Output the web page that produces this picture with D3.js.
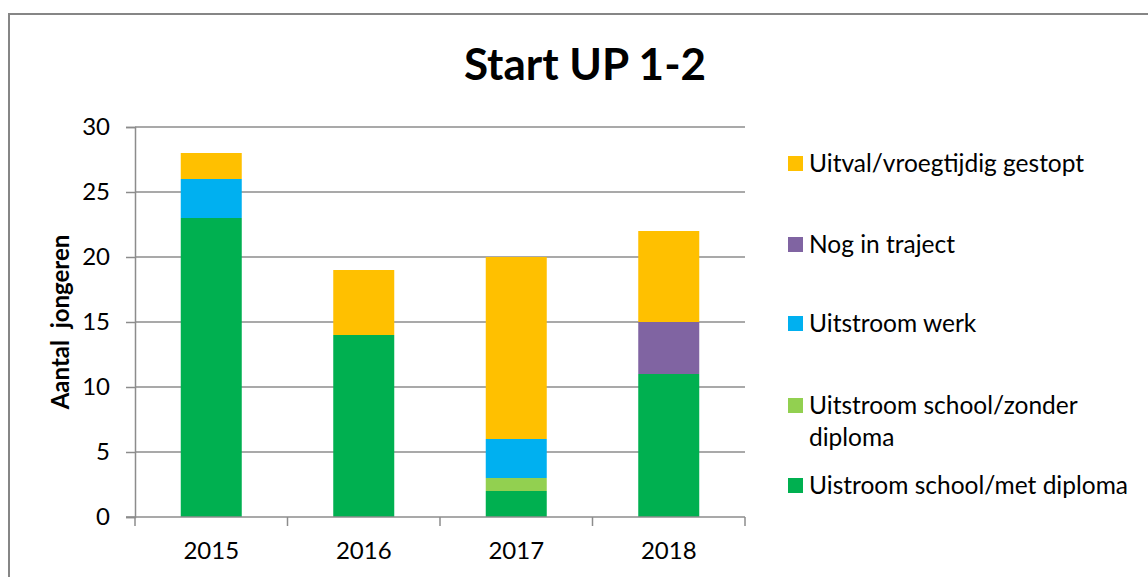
<!DOCTYPE html>
<html>
<head>
<meta charset="utf-8">
<script src="https://cdn.jsdelivr.net/npm/d3@7"></script>
<style>
  body { margin: 0; background: #fff; }
  text { font-family: Lato, "Open Sans", sans-serif; fill: #000; }
</style>
</head>
<body>
<script>
// data
var years = ["2015", "2016", "2017", "2018"];
var seriesNames = ["Uistroom school/met diploma", "Uitstroom school/zonder diploma", "Uitstroom werk", "Nog in traject", "Uitval/vroegtijdig gestopt"];
var metDiploma = [23, 14, 2, 11];
var zonderDiploma = [0, 0, 1, 0];
var werk = [3, 0, 3, 0];
var traject = [0, 0, 0, 4];
var uitval = [2, 5, 14, 7];
var colors = ["#00B050", "#92D050", "#00B0F0", "#8064A2", "#FFC000"];
var yTicks = [0, 5, 10, 15, 20, 25, 30];

var width = 1148, height = 577;
var svg = d3.select("body").append("svg")
    .attr("width", width)
    .attr("height", height);

// chart border (runs off the right / bottom of the picture)
svg.append("rect")
    .attr("x", 9).attr("y", 14)
    .attr("width", 1300).attr("height", 700)
    .attr("fill", "none")
    .attr("stroke", "#868686")
    .attr("stroke-width", 2);

var plotLeft = 135, plotRight = 745, plotTop = 127, plotBottom = 517;

var x = d3.scaleBand().domain(years).range([plotLeft, plotRight])
    .paddingInner(0.6).paddingOuter(0.3);
var y = d3.scaleLinear().domain([0, 30]).range([plotBottom, plotTop]);

var table = years.map(function (yr, i) {
  return {year: yr, s0: metDiploma[i], s1: zonderDiploma[i], s2: werk[i], s3: traject[i], s4: uitval[i]};
});
var keys = ["s0", "s1", "s2", "s3", "s4"];
var stacked = d3.stack().keys(keys)(table);

// gridlines
svg.append("g")
    .selectAll("line")
    .data(yTicks.filter(function (d) { return d > 0; }))
    .enter().append("line")
    .attr("x1", plotLeft).attr("x2", plotRight)
    .attr("y1", function (d) { return y(d); })
    .attr("y2", function (d) { return y(d); })
    .attr("stroke", "#8c8c8c")
    .attr("stroke-width", 1.5);

// bars
svg.append("g")
    .selectAll("g")
    .data(stacked)
    .enter().append("g")
    .attr("fill", function (d, i) { return colors[i]; })
    .selectAll("rect")
    .data(function (d) { return d; })
    .enter().append("rect")
    .attr("x", function (d) { return x(d.data.year); })
    .attr("width", x.bandwidth())
    .attr("y", function (d) { return y(d[1]); })
    .attr("height", function (d) { return y(d[0]) - y(d[1]); });

// y axis
var yAxis = svg.append("g")
    .attr("transform", "translate(" + plotLeft + ",0)")
    .call(d3.axisLeft(y).tickValues(yTicks).tickSize(9).tickPadding(16));
yAxis.select(".domain").attr("stroke", "#8c8c8c").attr("stroke-width", 1.5);
yAxis.selectAll(".tick line").attr("stroke", "#8c8c8c").attr("stroke-width", 1.5);
yAxis.selectAll(".tick text")
    .style("font-family", "Lato, sans-serif")
    .style("font-size", "24px")
    .attr("fill", "#000");

// x axis: ticks sit between categories
var xAxisG = svg.append("g");
xAxisG.append("line")
    .attr("x1", plotLeft - 9).attr("x2", plotRight)
    .attr("y1", plotBottom).attr("y2", plotBottom)
    .attr("stroke", "#8c8c8c").attr("stroke-width", 1.5);
var step = (plotRight - plotLeft) / years.length;
xAxisG.selectAll(".xt")
    .data(d3.range(years.length + 1))
    .enter().append("line")
    .attr("x1", function (d) { return plotLeft + d * step; })
    .attr("x2", function (d) { return plotLeft + d * step; })
    .attr("y1", plotBottom).attr("y2", plotBottom + 9)
    .attr("stroke", "#8c8c8c").attr("stroke-width", 1.5);
xAxisG.selectAll("text")
    .data(years)
    .enter().append("text")
    .attr("x", function (d) { return x(d) + x.bandwidth() / 2; })
    .attr("y", plotBottom + 42)
    .attr("text-anchor", "middle")
    .style("font-size", "24px")
    .text(function (d) { return d; });

// title
svg.append("text")
    .attr("x", 585).attr("y", 80)
    .attr("text-anchor", "middle")
    .style("font-size", "44px")
    .style("font-weight", "bold")
    .text("Start UP 1-2");

// y label
svg.append("text")
    .attr("transform", "translate(69,322) rotate(-90)")
    .attr("text-anchor", "middle")
    .style("font-size", "24px")
    .style("font-weight", "bold")
    .style("white-space", "pre")
    .text("Aantal  jongeren");

// legend (top item = last series)
var legendY = [163, 244, 323, 405, 485];
var legendLines = [["Uitval/vroegtijdig gestopt"], ["Nog in traject"], ["Uitstroom werk"],
                   ["Uitstroom school/zonder", "diploma"], ["Uistroom school/met diploma"]];
var legend = svg.append("g")
    .selectAll("g")
    .data(d3.range(seriesNames.length))
    .enter().append("g")
    .attr("transform", function (d, i) { return "translate(788," + legendY[i] + ")"; });
legend.append("rect")
    .attr("x", 0).attr("y", -7)
    .attr("width", 15).attr("height", 15)
    .attr("fill", function (d, i) { return colors[seriesNames.length - 1 - i]; });
legend.each(function (d, i) {
  var g = d3.select(this);
  legendLines[i].forEach(function (ln, j) {
    g.append("text")
        .attr("x", 21)
        .attr("y", j * 32 + 9)
        .style("font-size", "24.5px")
        .text(ln);
  });
});
</script>
</body>
</html>
